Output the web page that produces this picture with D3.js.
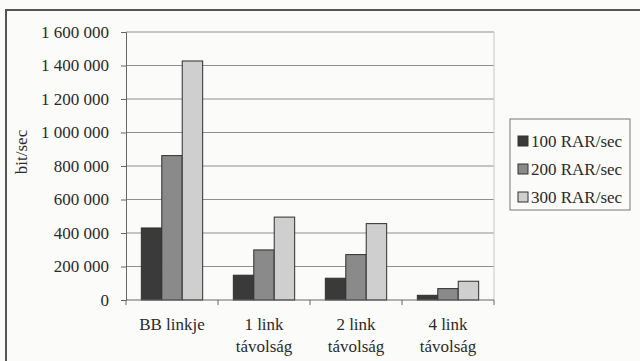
<!DOCTYPE html>
<html>
<head>
<meta charset="utf-8">
<script src="https://cdn.jsdelivr.net/npm/d3@7/dist/d3.min.js"></script>
<style>
  html, body { margin: 0; padding: 0; background: #fbfbfa; }
  svg { display: block; }
  text { font-family: "Liberation Serif", "DejaVu Serif", serif; fill: #2a2a2a; }
</style>
</head>
<body>
<svg id="chart" width="640" height="361"></svg>
<script>
// Throughput per hop distance, at three request rates
const categories = [["BB linkje"], ["1 link", "távolság"], ["2 link", "távolság"], ["4 link", "távolság"]];
const seriesNames = ["100 RAR/sec", "200 RAR/sec", "300 RAR/sec"];
const rar100 = [430000, 148000, 130000, 28000];
const rar200 = [862000, 299000, 271000, 68000];
const rar300 = [1427000, 495000, 456000, 112000];
const yTicks = [0, 200000, 400000, 600000, 800000, 1000000, 1200000, 1400000, 1600000];
const yTitle = "bit/sec";

const colors = ["#3b3a3a", "#8a8a8a", "#cfcfcf"];
const series = [rar100, rar200, rar300];

const svg = d3.select("#chart");

// Outer frame (top and left edges visible)
svg.append("path")
  .attr("d", "M6,361 L6,10 L640,10")
  .attr("fill", "none")
  .attr("stroke", "#555")
  .attr("stroke-width", 2);

const plot = { left: 126, right: 494, top: 32, bottom: 300 };

const x0 = d3.scaleBand()
  .domain(d3.range(categories.length))
  .range([plot.left, plot.right])
  .paddingInner(0)
  .paddingOuter(0);

const barW = x0.bandwidth() / 4.5;
const x1 = d3.scaleBand()
  .domain(d3.range(series.length))
  .range([0, barW * 3]);

const y = d3.scaleLinear()
  .domain([0, 1600000])
  .range([plot.bottom, plot.top]);

const fmt = v => d3.format(",")(v).replace(/,/g, " ");

// Horizontal gridlines
svg.append("g")
  .selectAll("line")
  .data(yTicks.filter(t => t > 0))
  .join("line")
  .attr("x1", plot.left)
  .attr("x2", plot.right)
  .attr("y1", d => y(d))
  .attr("y2", d => y(d))
  .attr("stroke", "#8f8f8f")
  .attr("stroke-width", 1);

// Right border of the plot area
svg.append("line")
  .attr("x1", plot.right).attr("x2", plot.right)
  .attr("y1", plot.top).attr("y2", plot.bottom)
  .attr("stroke", "#c8c8c8");

// Bars
const groups = svg.append("g")
  .selectAll("g")
  .data(categories.map((c, i) => i))
  .join("g")
  .attr("transform", i => `translate(${x0(i) + (x0.bandwidth() - barW * 3) / 2},0)`);

groups.selectAll("rect")
  .data(i => series.map((s, k) => ({ k, v: s[i] })))
  .join("rect")
  .attr("x", d => x1(d.k))
  .attr("width", x1.bandwidth())
  .attr("y", d => y(d.v))
  .attr("height", d => y(0) - y(d.v))
  .attr("fill", d => colors[d.k])
  .attr("stroke", "#2e2e2e")
  .attr("stroke-width", 1);

// Y axis
const yAxis = d3.axisLeft(y)
  .tickValues(yTicks)
  .tickFormat(fmt)
  .tickSize(5)
  .tickPadding(12);

const gy = svg.append("g")
  .attr("transform", `translate(${plot.left},0)`)
  .call(yAxis);
gy.select(".domain").attr("stroke", "#666");
gy.selectAll(".tick line").attr("stroke", "#666");
gy.selectAll(".tick text")
  .attr("font-size", 17)
  .attr("fill", "#2a2a2a");

// X axis with category boundary ticks
const gx = svg.append("g")
  .attr("transform", `translate(0,${plot.bottom})`);
gx.append("line")
  .attr("x1", plot.left).attr("x2", plot.right)
  .attr("stroke", "#666");
gx.selectAll("line.tick")
  .data(d3.range(categories.length + 1))
  .join("line")
  .attr("class", "tick")
  .attr("x1", i => plot.left + i * x0.step())
  .attr("x2", i => plot.left + i * x0.step())
  .attr("y1", 0).attr("y2", 5)
  .attr("stroke", "#666");

gx.selectAll("text")
  .data(categories)
  .join("text")
  .attr("text-anchor", "middle")
  .attr("font-size", 17)
  .each(function (lines, i) {
    const t = d3.select(this);
    lines.forEach((ln, j) => {
      t.append("tspan")
        .attr("x", x0(i) + x0.bandwidth() / 2)
        .attr("y", 30 + j * 22)
        .text(ln);
    });
  });

// Y axis title
svg.append("text")
  .attr("transform", "translate(27,152) rotate(-90)")
  .attr("text-anchor", "middle")
  .attr("font-size", 17)
  .text(yTitle);

// Legend
const legend = svg.append("g");
legend.append("rect")
  .attr("x", 510).attr("y", 119)
  .attr("width", 120).attr("height", 91)
  .attr("fill", "none")
  .attr("stroke", "#777")
  .attr("stroke-width", 1);

const items = legend.selectAll("g.item")
  .data(seriesNames)
  .join("g")
  .attr("class", "item")
  .attr("transform", (d, i) => `translate(518,${142 + i * 28})`);
items.append("rect")
  .attr("x", 0).attr("y", -6)
  .attr("width", 10).attr("height", 10)
  .attr("fill", (d, i) => colors[i])
  .attr("stroke", "#333");
items.append("text")
  .attr("x", 13)
  .attr("y", 5)
  .attr("font-size", 17)
  .text(d => d);
</script>
</body>
</html>
